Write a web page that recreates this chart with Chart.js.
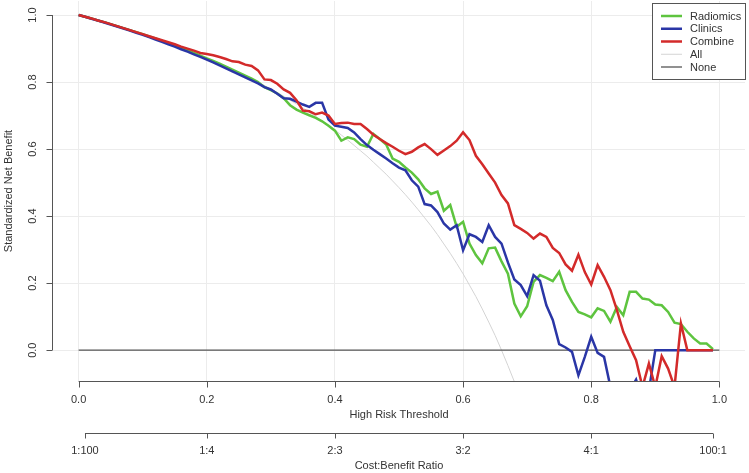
<!DOCTYPE html>
<html>
<head>
<meta charset="utf-8">
<script src="https://cdn.jsdelivr.net/npm/chart.js@4.4.1/dist/chart.umd.min.js"></script>
<style>
  html, body { margin: 0; padding: 0; background: #fff; }
  canvas { display: block; }
</style>
</head>
<body>
<canvas id="dca" width="749" height="473"></canvas>
<script>
// thresholds used for every model curve (0.00 .. 0.99)
const thresholds = Array.from({ length: 100 }, (_, i) => i / 100);

const radiomics = [
  1.000, 0.995, 0.990, 0.984, 0.979, 0.973, 0.967, 0.961, 0.955, 0.949,
  0.943, 0.936, 0.930, 0.923, 0.916, 0.909, 0.902, 0.895, 0.887, 0.879,
  0.871, 0.863, 0.855, 0.846, 0.837, 0.828, 0.819, 0.810, 0.800, 0.785,
  0.776, 0.766, 0.752, 0.731, 0.718, 0.709, 0.701, 0.693, 0.683, 0.670,
  0.655, 0.625, 0.635, 0.630, 0.613, 0.607, 0.645, 0.630, 0.614, 0.572,
  0.562, 0.545, 0.530, 0.510, 0.483, 0.466, 0.473, 0.416, 0.433, 0.368,
  0.383, 0.318, 0.284, 0.259, 0.304, 0.306, 0.265, 0.228, 0.139, 0.101,
  0.131, 0.204, 0.224, 0.216, 0.206, 0.234, 0.179, 0.144, 0.114, 0.107,
  0.098, 0.125, 0.117, 0.085, 0.129, 0.104, 0.174, 0.174, 0.154, 0.151,
  0.136, 0.134, 0.114, 0.082, 0.078, 0.055, 0.035, 0.020, 0.020, 0.003
];

const clinics = [
  1.000, 0.995, 0.989, 0.984, 0.978, 0.972, 0.966, 0.960, 0.954, 0.947,
  0.941, 0.934, 0.927, 0.920, 0.913, 0.906, 0.898, 0.891, 0.883, 0.875,
  0.867, 0.859, 0.850, 0.841, 0.832, 0.823, 0.814, 0.805, 0.796, 0.785,
  0.778, 0.765, 0.752, 0.750, 0.742, 0.733, 0.726, 0.738, 0.738, 0.688,
  0.670, 0.667, 0.663, 0.650, 0.630, 0.612, 0.598, 0.585, 0.572, 0.558,
  0.545, 0.537, 0.507, 0.488, 0.436, 0.432, 0.412, 0.378, 0.360, 0.373,
  0.298, 0.346, 0.338, 0.323, 0.373, 0.338, 0.318, 0.262, 0.211, 0.194,
  0.161, 0.224, 0.207, 0.134, 0.090, 0.018, 0.008, -0.005, -0.075, -0.020,
  0.040, -0.008, -0.020, -0.110, -0.150, -0.150, -0.120, -0.088, -0.150, -0.120,
  0.000, 0.000, 0.000, 0.000, 0.000, 0.000, 0.000, 0.000, 0.000, 0.000
];

const combine = [
  1.000, 0.995, 0.990, 0.984, 0.979, 0.973, 0.967, 0.961, 0.955, 0.949,
  0.943, 0.937, 0.931, 0.925, 0.919, 0.913, 0.906, 0.900, 0.894, 0.887,
  0.884, 0.880, 0.875, 0.869, 0.862, 0.860, 0.852, 0.848, 0.835, 0.808,
  0.806, 0.795, 0.778, 0.768, 0.746, 0.715, 0.713, 0.704, 0.709, 0.700,
  0.675, 0.678, 0.679, 0.675, 0.675, 0.660, 0.643, 0.630, 0.618, 0.607,
  0.595, 0.585, 0.592, 0.605, 0.615, 0.600, 0.583, 0.596, 0.609, 0.625,
  0.650, 0.627, 0.580, 0.555, 0.527, 0.500, 0.463, 0.438, 0.373, 0.362,
  0.350, 0.333, 0.348, 0.338, 0.305, 0.290, 0.256, 0.237, 0.285, 0.233,
  0.196, 0.254, 0.219, 0.179, 0.120, 0.055, 0.012, -0.030, -0.110, -0.040,
  -0.110, -0.018, -0.055, -0.110, 0.080, 0.000, 0.000, 0.000, 0.000, 0.000
];

// treat-all curve, read from t = 0.00 .. 0.69 (runs off the bottom afterwards)
const treatAll = [
  1.000, 0.995, 0.990, 0.984, 0.979, 0.973, 0.967, 0.961, 0.955, 0.949,
  0.943, 0.936, 0.930, 0.923, 0.916, 0.909, 0.902, 0.895, 0.887, 0.879,
  0.871, 0.863, 0.855, 0.846, 0.837, 0.828, 0.819, 0.810, 0.800, 0.790,
  0.779, 0.769, 0.758, 0.746, 0.735, 0.723, 0.710, 0.698, 0.684, 0.671,
  0.657, 0.642, 0.627, 0.611, 0.595, 0.579, 0.561, 0.543, 0.525, 0.505,
  0.485, 0.464, 0.442, 0.419, 0.395, 0.371, 0.345, 0.317, 0.289, 0.259,
  0.228, 0.194, 0.160, 0.123, 0.084, 0.044, 0.000, -0.046, -0.094, -0.146
];

const noneX = [0, 1];
const noneY = [0, 0];

const xTicks = [0, 0.2, 0.4, 0.6, 0.8, 1.0];
const yTicks = [0, 0.2, 0.4, 0.6, 0.8, 1.0];
const ratioLabels = ['1:100', '1:4', '2:3', '3:2', '4:1', '100:1'];
const ratioPos = [0.0099, 0.2, 0.4, 0.6, 0.8, 0.9901];

const FONT = '11px "Liberation Sans", Arial, sans-serif';
const TEXT = '#333';
const AXIS = '#555';

function pts(xs, ys) {
  return ys.map((v, i) => ({ x: xs[i], y: v }));
}

// R-style axes drawn outside the plot region
const rAxes = {
  id: 'rAxes',
  afterDraw(chart) {
    const { ctx, chartArea: a, scales: { x, y } } = chart;
    ctx.save();
    ctx.strokeStyle = AXIS;
    ctx.lineWidth = 1;
    ctx.fillStyle = TEXT;
    ctx.font = FONT;

    // left axis
    const ax = Math.round(a.left) - 0.5;
    ctx.beginPath();
    ctx.moveTo(ax, y.getPixelForValue(0));
    ctx.lineTo(ax, y.getPixelForValue(1));
    yTicks.forEach(v => {
      const py = Math.round(y.getPixelForValue(v)) + 0.5;
      ctx.moveTo(ax, py);
      ctx.lineTo(ax - 6, py);
    });
    ctx.stroke();
    ctx.textAlign = 'center';
    ctx.textBaseline = 'middle';
    yTicks.forEach(v => {
      ctx.save();
      ctx.translate(33, y.getPixelForValue(v));
      ctx.rotate(-Math.PI / 2);
      ctx.fillText(v.toFixed(1), 0, 0);
      ctx.restore();
    });
    ctx.save();
    ctx.translate(9, (a.top + a.bottom) / 2);
    ctx.rotate(-Math.PI / 2);
    ctx.fillText('Standardized Net Benefit', 0, 0);
    ctx.restore();

    // bottom axis
    const by = Math.round(a.bottom) + 0.5;
    ctx.beginPath();
    ctx.moveTo(x.getPixelForValue(0), by);
    ctx.lineTo(x.getPixelForValue(1), by);
    xTicks.forEach(v => {
      const px = Math.round(x.getPixelForValue(v)) + 0.5;
      ctx.moveTo(px, by);
      ctx.lineTo(px, by + 6);
    });
    ctx.stroke();
    xTicks.forEach(v => ctx.fillText(v.toFixed(1), x.getPixelForValue(v), 400));
    ctx.fillText('High Risk Threshold', (a.left + a.right) / 2, 415);

    // cost:benefit axis
    const cy = 433.5;
    ctx.beginPath();
    ctx.moveTo(x.getPixelForValue(ratioPos[0]), cy);
    ctx.lineTo(x.getPixelForValue(ratioPos[ratioPos.length - 1]), cy);
    ratioPos.forEach(v => {
      const px = Math.round(x.getPixelForValue(v)) + 0.5;
      ctx.moveTo(px, cy);
      ctx.lineTo(px, cy + 5);
    });
    ctx.stroke();
    ratioPos.forEach((v, i) => ctx.fillText(ratioLabels[i], x.getPixelForValue(v), 451));
    ctx.fillText('Cost:Benefit Ratio', (a.left + a.right) / 2, 466);
    ctx.restore();
  }
};

// boxed legend in the top-right corner
const rLegend = {
  id: 'rLegend',
  afterDraw(chart) {
    const ctx = chart.ctx;
    ctx.save();
    ctx.fillStyle = '#fff';
    ctx.fillRect(652, 3, 94, 77);
    ctx.strokeStyle = AXIS;
    ctx.lineWidth = 1;
    ctx.strokeRect(652.5, 3.5, 93, 76);
    ctx.font = FONT;
    ctx.textBaseline = 'middle';
    ctx.textAlign = 'left';
    chart.data.datasets.forEach((ds, i) => {
      const ly = 16 + i * 12.75;
      ctx.strokeStyle = ds.borderColor;
      ctx.lineWidth = ds.borderWidth;
      ctx.beginPath();
      ctx.moveTo(661, ly);
      ctx.lineTo(682, ly);
      ctx.stroke();
      ctx.fillStyle = TEXT;
      ctx.fillText(ds.label, 690, ly + 0.5);
    });
    ctx.restore();
  }
};

const lineDefaults = { pointRadius: 0, tension: 0, fill: false, clip: 0 };

new Chart(document.getElementById('dca').getContext('2d'), {
  type: 'line',
  data: {
    datasets: [
      { ...lineDefaults, label: 'Radiomics', data: pts(thresholds, radiomics), borderColor: '#5ec43f', borderWidth: 2.5, order: 2 },
      { ...lineDefaults, label: 'Clinics', data: pts(thresholds, clinics), borderColor: '#2a36a6', borderWidth: 2.5, order: 1 },
      { ...lineDefaults, label: 'Combine', data: pts(thresholds, combine), borderColor: '#d32a2a', borderWidth: 2.5, order: 0 },
      { ...lineDefaults, label: 'All', data: pts(thresholds, treatAll), borderColor: '#d4d4d4', borderWidth: 1, order: 4 },
      { ...lineDefaults, label: 'None', data: pts(noneX, noneY), borderColor: '#555', borderWidth: 1.3, order: 3 }
    ]
  },
  options: {
    responsive: false,
    animation: false,
    devicePixelRatio: 1,
    layout: { padding: { left: 53, right: 4, top: 1, bottom: 92 } },
    plugins: { legend: { display: false }, tooltip: { enabled: false } },
    scales: {
      x: {
        type: 'linear', min: -0.04, max: 1.04,
        afterBuildTicks: s => { s.ticks = xTicks.map(v => ({ value: v })); },
        ticks: { display: false },
        grid: { color: '#ececec', drawTicks: false },
        border: { display: false }
      },
      y: {
        type: 'linear', min: -0.092, max: 1.042,
        afterBuildTicks: s => { s.ticks = yTicks.map(v => ({ value: v })); },
        ticks: { display: false },
        grid: { color: '#ececec', drawTicks: false },
        border: { display: false }
      }
    }
  },
  plugins: [rAxes, rLegend]
});
</script>
</body>
</html>
